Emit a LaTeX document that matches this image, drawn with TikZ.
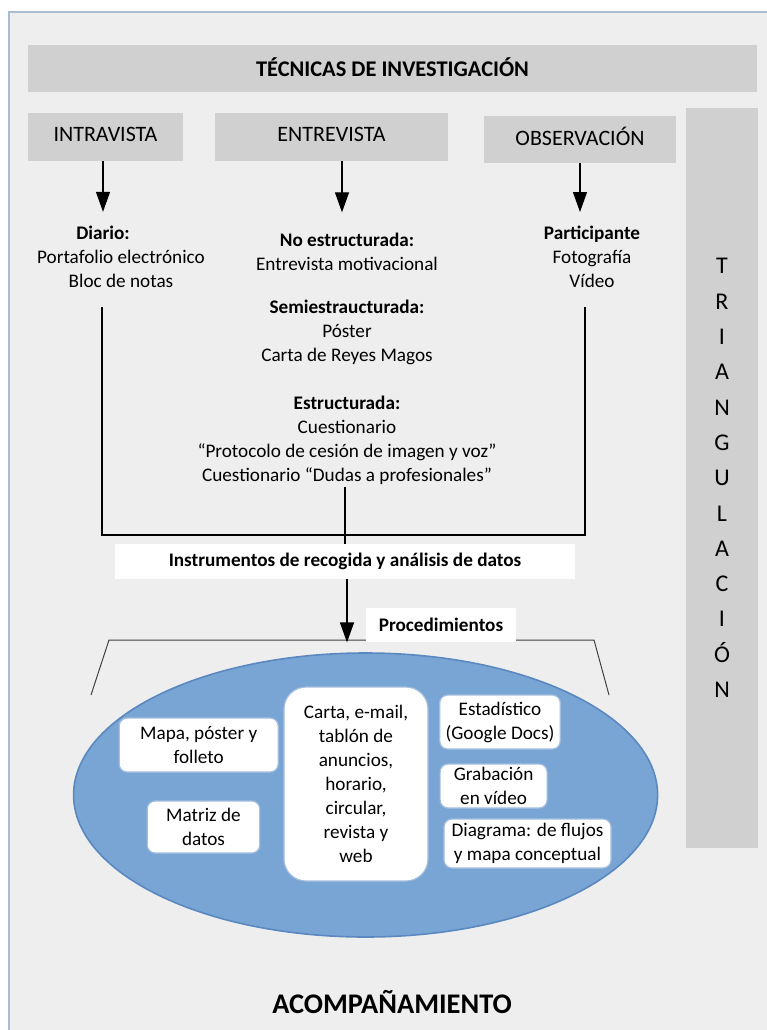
\documentclass[tikz,border=0pt]{standalone}
\usepackage{fontspec}
\setmainfont{Carlito}
\usetikzlibrary{arrows.meta}
\definecolor{fondo}{HTML}{EEEEEE}
\definecolor{barra}{HTML}{D0D0D0}
\definecolor{borde}{HTML}{A9BCD0}
\definecolor{elipse}{HTML}{79A5D4}
\definecolor{elipseborde}{HTML}{5A88C0}
\definecolor{cajaborde}{HTML}{A3BEDF}
\newcommand{\cuerpo}{\fontsize{9.6}{12}\selectfont}

\begin{document}
\begin{tikzpicture}
    [x=0.5pt, y=-0.5pt,
    every node/.style={font=\cuerpo, align=center},
    bar/.style={fill=barra, inner sep=0pt, font=\fontsize{11}{13}\selectfont},
    col/.style={bar, text depth=3pt},
    txt/.style={inner sep=1pt},
    whitebox/.style={fill=white, inner sep=0pt, font=\cuerpo\bfseries},
    item/.style={fill=white, draw=cajaborde, line width=0.6pt, rounded corners=4pt, inner sep=0pt},
    arr/.style={-{Triangle[length=10pt,width=7pt]}, line width=0.6pt},
    link/.style={line width=0.8pt}]
  \useasboundingbox (0,0) rectangle (767,1030);
  \fill [fondo] (9,12) rectangle (767,1030);
  \draw [borde, line width=0.8pt] (9,1030) -- (9,12) -- (767,12);

  % cabecera y columnas
  \node [bar, minimum width=364.5pt, minimum height=23.5pt, text depth=1.5pt,
    font=\fontsize{11.2}{13}\selectfont\bfseries] (tecnicas) at (392.5,68.5) {TÉCNICAS DE INVESTIGACIÓN};
  \node [col, minimum width=77.5pt, minimum height=24pt] (intra) at (105.5,137) {INTRAVISTA};
  \node [col, minimum width=116.5pt, minimum height=24pt] (entre) at (331.5,137) {ENTREVISTA};
  \node [col, minimum width=96pt, minimum height=23.5pt] (obs) at (580,139.5) {OBSERVACIÓN};
  \node [bar, minimum width=36pt, minimum height=370pt,
    font=\fontsize{12}{17.65}\selectfont] (triang) at (722,478)
    {T\\R\\I\\A\\N\\G\\U\\L\\A\\C\\I\\Ó\\N};

  \node [txt] (diario) at (103,233) {\textbf{Diario:}};
  \node [txt] (diariolist) at (121,269) {Portafolio electrónico\\Bloc de notas};
  \node [txt] (noest) at (347,251.5) {\textbf{No estructurada:}\\Entrevista motivacional};
  \node [txt] (semi) at (347,332) {\textbf{Semiestraucturada:}\\Póster\\Carta de Reyes Magos};
  \node [txt] (estr) at (347,440) {\textbf{Estructurada:}\\Cuestionario\\“Protocolo de cesión de imagen y voz”\\Cuestionario “Dudas a profesionales”};
  \node [txt] (partic) at (592,257) {\textbf{Participante}\\Fotografía\\Vídeo};

  \draw [arr, shorten >=6pt] (intra.south -| diario.north) -- (diario.north);
  \draw [arr, shorten >=9pt] (entre.south -| 342,0) -- (noest.north -| 342,0);
  \draw [arr] (obs.south) -- (obs.south |- 0,212);

  % recogida de datos
  \node [whitebox, minimum width=230pt, minimum height=17.5pt] (instr) at (345,561.5)
    {Instrumentos de recogida y análisis de datos};
  \coordinate (izq) at (102,307);
  \coordinate (der) at (585,307);
  \coordinate (base) at (345,535);
  \draw [link] (izq) |- (base) -| (der);
  \draw [line width=0.6pt] (instr.north |- estr.south) -- (instr.north);

  \draw [darkgray, line width=0.5pt] (91,695) -- (109,640) -- (594,640) -- (609,695);
  \node [whitebox, minimum width=75pt, minimum height=17pt] (proc) at (441,625) {Procedimientos};
  \draw [arr] (instr.south -| 347,0) -- (proc.south -| 347,0);

  % procedimientos
  \draw [elipseborde, fill=elipse, line width=0.8pt] (365.6,795) ellipse [x radius=146pt, y radius=71pt];
  \node [item, minimum width=79.5pt, minimum height=27pt] (mapa) at (198.7,745) {Mapa, póster y\\folleto};
  \node [item, minimum width=56.3pt, minimum height=26pt] (matriz) at (203.5,827) {Matriz de\\datos};
  \node [item, minimum width=72pt, minimum height=97pt, rounded corners=11pt] (carta) at (356,784)
    {Carta, e-mail,\\tablón de\\anuncios,\\horario,\\circular,\\revista y\\web};
  \node [item, minimum width=60.3pt, minimum height=27pt] (estad) at (500,722) {Estadístico\\(Google Docs)};
  \node [item, minimum width=53.5pt, minimum height=22pt] (grab) at (493.6,786) {Grabación\\en vídeo};
  \node [item, minimum width=83.5pt, minimum height=24.5pt] (diag) at (527.5,843.5) {Diagrama: de flujos\\y mapa conceptual};

  \node [font=\fontsize{14.2}{16}\selectfont\bfseries] (acomp) at (392,1002) {ACOMPAÑAMIENTO};
\end{tikzpicture}
\end{document}
